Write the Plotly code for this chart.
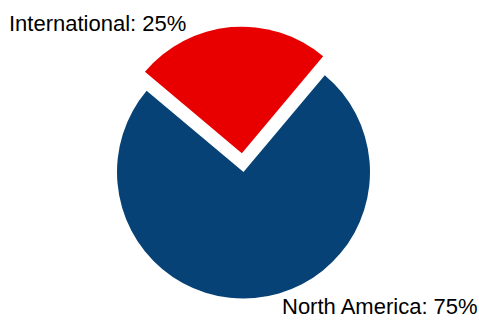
import plotly.graph_objects as go

# Revenue split by region
labels = ["International", "North America"]
values = [25, 75]
colors = ["#E80000", "#064275"]
pulls = [0.15, 0]

total = sum(values)
pct = [round(v / total * 100) for v in values]
label_text = [f"{l}: {p}%" for l, p in zip(labels, pct)]

fig = go.Figure(
    go.Pie(
        labels=labels,
        values=values,
        marker=dict(colors=colors, line=dict(width=0)),
        pull=pulls,
        sort=False,
        direction="clockwise",
        rotation=-50,
        textinfo="none",
        hoverinfo="label+percent",
        domain=dict(x=[0.2046, 0.8121], y=[0.0078, 0.917]),
    )
)

font = dict(family="Liberation Sans, Arial, sans-serif", size=22, color="#000000")
fig.add_annotation(
    text=label_text[0], x=187 / 479, y=1 - 23.5 / 320, xref="paper", yref="paper",
    xanchor="right", yanchor="middle", showarrow=False, font=font, borderpad=0,
)
fig.add_annotation(
    text=label_text[1], x=1, y=0, xref="paper", yref="paper",
    xanchor="right", yanchor="bottom", showarrow=False, font=font, borderpad=0,
)

fig.update_layout(
    width=479,
    height=320,
    margin=dict(l=0, r=0, t=0, b=0),
    paper_bgcolor="white",
    plot_bgcolor="white",
    showlegend=False,
)

fig.write_html("out.html")
